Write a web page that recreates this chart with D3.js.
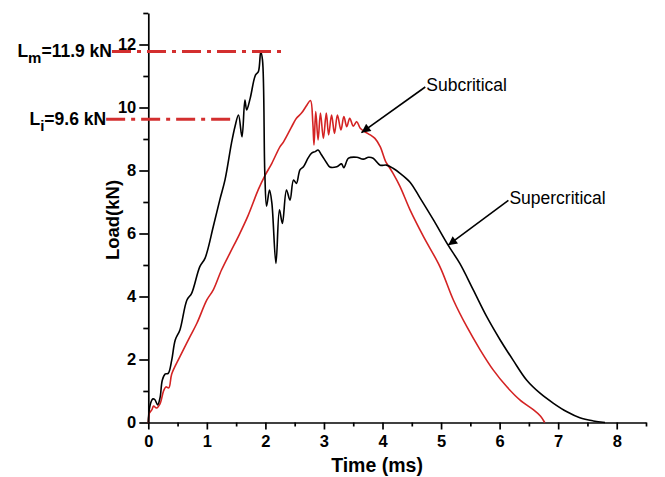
<!DOCTYPE html>
<html lang="en">
<head>
<meta charset="UTF-8">
<title>Load vs Time</title>
<script src="https://cdnjs.cloudflare.com/ajax/libs/d3/7.8.5/d3.min.js"></script>
<style>
  body { margin: 0; background: #fff; }
  svg text { font-family: "Liberation Sans", Arial, sans-serif; }
</style>
</head>
<body>
<div id="chart"></div>
<script>
// supercritical (black) curve, time in ms / load in kN
const superT = [0, 0.02, 0.06, 0.08, 0.11, 0.16, 0.2, 0.24, 0.29, 0.34, 0.40, 0.46, 0.54, 0.66, 0.74, 0.88, 0.97,
  1.11, 1.22, 1.31, 1.42, 1.48, 1.54, 1.60, 1.65, 1.68, 1.74, 1.83, 1.88, 1.92, 1.95, 1.99, 2.02, 2.07, 2.11,
  2.18, 2.24, 2.29, 2.36, 2.42, 2.48, 2.53, 2.59, 2.65, 2.73, 2.79, 2.85, 2.90, 2.96, 3.05, 3.10, 3.22, 3.30,
  3.34, 3.42, 3.56, 3.67, 3.76, 3.84, 3.96, 4.07, 4.18, 4.30, 4.47, 4.64, 4.87, 5.12, 5.32, 5.55, 5.78, 6.01,
  6.23, 6.46, 6.69, 6.92, 7.15, 7.37, 7.6, 7.8];
const superL = [0, 0.45, 0.71, 0.75, 0.73, 0.56, 0.78, 1.35, 1.54, 1.56, 1.98, 2.62, 2.94, 3.89, 4.10, 4.95, 5.22,
  6.22, 7.06, 7.70, 8.86, 9.39, 9.76, 9.07, 10.24, 9.92, 10.29, 11.03, 11.14, 11.77, 11.51, 7.91, 6.87, 7.38, 6.97,
  5.05, 6.75, 6.32, 7.38, 7.06, 7.70, 7.59, 8.02, 8.12, 8.40, 8.55, 8.60, 8.65, 8.49, 8.23, 8.11, 8.12, 8.21,
  8.09, 8.39, 8.42, 8.36, 8.42, 8.39, 8.17, 8.17, 8.07, 7.91, 7.63, 7.13, 6.43, 5.63, 5.05, 4.21, 3.36, 2.62,
  1.98, 1.35, 0.93, 0.61, 0.34, 0.15, 0.05, 0];

// subcritical (red) curve
const subT = [0, 0.02, 0.06, 0.09, 0.14, 0.20, 0.26, 0.30, 0.35, 0.40, 0.54, 0.71, 0.83, 1.0, 1.11, 1.25, 1.40,
  1.55, 1.70, 1.88, 1.99, 2.11, 2.25, 2.31, 2.48, 2.53, 2.62, 2.71, 2.77, 2.81, 2.83, 2.86, 2.90, 2.94, 2.99,
  3.04, 3.08, 3.13, 3.18, 3.23, 3.29, 3.34, 3.39, 3.44, 3.50, 3.56, 3.62, 3.70, 3.79, 3.87, 3.96, 4.05, 4.10,
  4.18, 4.30, 4.47, 4.70, 4.98, 5.21, 5.44, 5.67, 5.89, 6.12, 6.35, 6.58, 6.70, 6.77];
const subL = [0, 0.3, 0.40, 0.52, 0.46, 0.59, 1.0, 1.13, 1.10, 1.54, 2.09, 2.72, 3.15, 3.89, 4.21, 4.84, 5.40,
  5.95, 6.55, 7.40, 7.83, 8.23, 8.76, 8.91, 9.50, 9.66, 9.83, 10.08, 10.22, 9.50, 8.81, 9.87, 8.97, 9.82, 9.02,
  9.82, 9.13, 9.76, 9.18, 9.76, 9.29, 9.71, 9.39, 9.66, 9.41, 9.55, 9.34, 9.23, 9.13, 9.02, 8.76, 8.30, 8.15,
  7.91, 7.49, 6.75, 5.90, 4.95, 3.89, 3.04, 2.30, 1.67, 1.14, 0.71, 0.40, 0.2, 0];

const xTicks = [0, 1, 2, 3, 4, 5, 6, 7, 8];
const xMinor = [0.5, 1.5, 2.5, 3.5, 4.5, 5.5, 6.5, 7.5, 8.5];
const yTicks = [0, 2, 4, 6, 8, 10, 12];
const yMinor = [1, 3, 5, 7, 9, 11, 13];

// annotated load levels: subscript, rest of label, drawn level, t from, t to
const refLevels = [
  {sub: "m", text: "=11.9 kN", load: 11.78, t0: -0.62, t1: 2.28},
  {sub: "i", text: "=9.6 kN", load: 9.63, t0: -0.72, t1: 1.40}
];

const W = 665, H = 477;
const x = d3.scaleLinear().domain([0, 8.5]).range([148.3, 646]);
const y = d3.scaleLinear().domain([0, 13]).range([422.5, 13]);

const svg = d3.select("#chart").append("svg")
  .attr("width", W).attr("height", H);

// axes
svg.append("g")
  .attr("transform", `translate(0,${y(0)})`)
  .call(d3.axisBottom(x).tickValues(xTicks).tickSize(7).tickSizeOuter(0).tickPadding(6).tickFormat(d3.format("d")));
svg.append("g")
  .attr("transform", `translate(0,${y(0)})`)
  .call(d3.axisBottom(x).tickValues(xMinor).tickSize(4).tickSizeOuter(0).tickFormat(""))
  .select(".domain").remove();

svg.append("g")
  .attr("transform", `translate(${x(0)},0)`)
  .call(d3.axisLeft(y).tickValues(yTicks).tickSize(9).tickSizeOuter(0).tickPadding(3).tickFormat(d3.format("d")));
svg.append("g")
  .attr("transform", `translate(${x(0)},0)`)
  .call(d3.axisLeft(y).tickValues(yMinor).tickSize(5).tickSizeOuter(0).tickFormat(""))
  .select(".domain").remove();

svg.selectAll(".domain, .tick line").attr("stroke", "#000").attr("stroke-width", 1.7);
svg.selectAll(".tick text")
  .attr("font-size", 16.5).attr("font-weight", "bold")
  .attr("font-family", "'Liberation Sans', Arial, sans-serif").attr("fill", "#000");

// axis titles
svg.append("text")
  .attr("x", 377).attr("y", 472)
  .attr("text-anchor", "middle")
  .attr("font-size", 19.5).attr("font-weight", "bold")
  .text("Time (ms)");

svg.append("text")
  .attr("transform", "translate(119,220) rotate(-90)")
  .attr("text-anchor", "middle")
  .attr("font-size", 18.5).attr("font-weight", "bold")
  .text("Load(kN)");

// curves
const line = d3.line().curve(d3.curveCatmullRom.alpha(0.5));
const superPts = superT.map((t, i) => [x(t), y(superL[i])]);
const subPts = subT.map((t, i) => [x(t), y(subL[i])]);

svg.append("path")
  .attr("d", line(subPts))
  .attr("fill", "none").attr("stroke", "#d42323").attr("stroke-width", 1.6);
svg.append("path")
  .attr("d", line(superPts))
  .attr("fill", "none").attr("stroke", "#000").attr("stroke-width", 1.6);

// reference lines
refLevels.forEach(r => {
  svg.append("line")
    .attr("x1", x(r.t0)).attr("x2", x(r.t1))
    .attr("y1", y(r.load)).attr("y2", y(r.load))
    .attr("stroke", "#d32f2f").attr("stroke-width", 3)
    .attr("stroke-dasharray", "19,6,4,6");
  const tx = svg.append("text")
    .attr("x", x(r.t0)).attr("y", y(r.load) + 6)
    .attr("text-anchor", "end")
    .attr("font-size", 17.5).attr("font-weight", "bold");
  tx.append("tspan").text("L");
  tx.append("tspan").attr("font-size", 15).attr("dy", 6).text(r.sub);
  tx.append("tspan").attr("dy", -6).text(r.text);
});

// arrows with labels
svg.append("defs").append("marker")
  .attr("id", "head")
  .attr("viewBox", "0 0 10 10")
  .attr("refX", 10).attr("refY", 5)
  .attr("markerWidth", 13).attr("markerHeight", 9)
  .attr("markerUnits", "userSpaceOnUse")
  .attr("orient", "auto")
  .append("path").attr("d", "M0,0L10,5L0,10z").attr("fill", "#000");

const notes = [
  {label: "Subcritical", t: 3.64, load: 9.2, tx: 4.73, ty: 10.65},
  {label: "Supercritical", t: 5.12, load: 5.63, tx: 6.15, ty: 7.05}
];
notes.forEach(n => {
  svg.append("line")
    .attr("x1", x(n.tx)).attr("y1", y(n.ty))
    .attr("x2", x(n.t)).attr("y2", y(n.load))
    .attr("stroke", "#000").attr("stroke-width", 1.6)
    .attr("marker-end", "url(#head)");
  svg.append("text")
    .attr("x", x(n.tx) + 1).attr("y", y(n.ty) + 4)
    .attr("font-size", 17.5)
    .text(n.label);
});
</script>
</body>
</html>
